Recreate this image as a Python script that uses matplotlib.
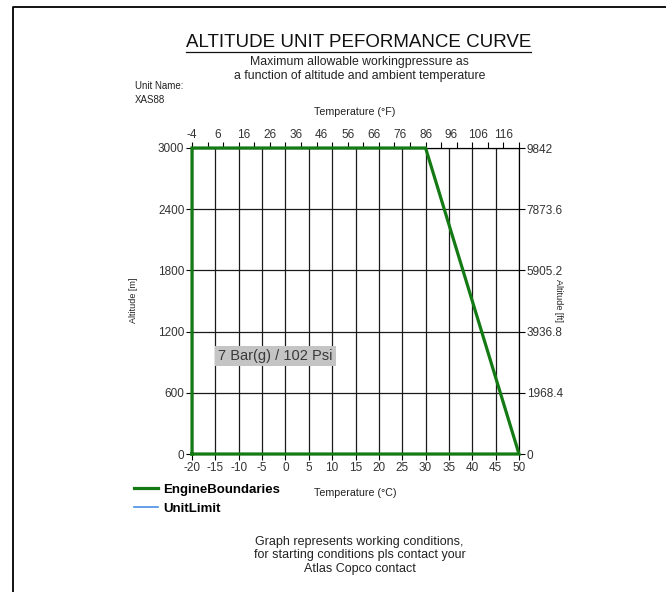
import numpy as np
import matplotlib
matplotlib.use('Agg')
import matplotlib.pyplot as plt
from matplotlib.lines import Line2D

plt.rcParams['font.family'] = ['Liberation Sans', 'DejaVu Sans']
plt.rcParams['axes.unicode_minus'] = False

# ── data ───────────────────────────────────────────────────────────────────
# engine boundary polygon: temperature (°C) vs altitude (m)
boundary_c = [-20, -20, 30, 50, -20]
boundary_m = [0, 3000, 3000, 0, 0]

x_ticks_c = list(range(-20, 51, 5))
y_ticks_m = [0, 600, 1200, 1800, 2400, 3000]
ft_ticks = [0, 1968.4, 3936.8, 5905.2, 7873.6, 9842]
ft_labels = ['0', '1968.4', '3936.8', '5905.2', '7873.6', '9842']
f_labels = list(range(-4, 117, 10))
f_marks = list(range(-4, 123, 6))

pressure_label = '7 Bar(g) / 102 Psi'
pressure_pos = (-2.1, 960)

GREEN = '#147a14'
BLUE = '#4a90e2'


def c2f(c):
    return np.asarray(c) * 1.8 + 32


def f2c(f):
    return (np.asarray(f) - 32) / 1.8


def m2ft(m):
    return np.asarray(m) * 3.2807


def ft2m(ft):
    return np.asarray(ft) / 3.2807


fig = plt.figure(figsize=(6.66, 5.92), dpi=100)
ax = fig.add_axes([0.2883, 0.2331, 0.491, 0.5169])

ax.plot(boundary_c, boundary_m, color=GREEN, lw=2.3, zorder=5,
        solid_joinstyle='miter', clip_on=False)
unit_line, = ax.plot([], [], color=BLUE, lw=1.2)

ax.set_xlim(-20, 50)
ax.set_ylim(0, 3000)
ax.set_xticks(x_ticks_c)
ax.set_yticks(y_ticks_m)
ax.grid(True, color='#1a1a1a', lw=0.9)
ax.tick_params(axis='both', direction='out', length=4, width=0.8,
               labelsize=8.5, labelcolor='#333333', pad=1.5)
for s in ax.spines.values():
    s.set_linewidth(0.8)

# top axis in °F: labels every 10 °F, tick marks every 6 °F
top = ax.secondary_xaxis('top', functions=(c2f, f2c))
top.xaxis.remove_overlapping_locs = False
top.set_xticks(f_labels, [str(v) for v in f_labels])
top.set_xticks(f_marks, minor=True)
top.tick_params(axis='x', which='major', length=0, labelsize=8.5,
                labelcolor='#333333', pad=5)
top.tick_params(axis='x', which='minor', direction='out', length=4, width=0.8)
top.spines['top'].set_linewidth(0.8)

# right axis in ft
right = ax.secondary_yaxis('right', functions=(m2ft, ft2m))
right.set_yticks(ft_ticks, ft_labels)
right.tick_params(axis='y', direction='out', length=4, width=0.8,
                  labelsize=8.5, labelcolor='#333333', pad=1.5)

ax.text(*pressure_pos, pressure_label, ha='center', va='center',
        fontsize=10.5, color='#3a3a3a', zorder=6,
        bbox=dict(boxstyle='square,pad=0.2', fc='#c4c4c4', ec='none'))

# axis titles
fig.text(0.533, 0.811, 'Temperature (°F)', ha='center', va='center',
         fontsize=7.7, color='#222222')
fig.text(0.533, 0.168, 'Temperature (°C)', ha='center', va='center',
         fontsize=7.7, color='#222222')
fig.text(0.2, 0.492, 'Altitude [m]', ha='center', va='center',
         rotation=90, fontsize=6.5, color='#222222')
fig.text(0.838, 0.492, 'Altitude [ft]', ha='center', va='center',
         rotation=-90, fontsize=6.5, color='#222222')

# header
title = fig.text(0.538, 0.928, 'ALTITUDE UNIT PEFORMANCE CURVE',
                 ha='center', va='center', fontsize=13.5, color='#111111')
fig.text(0.54, 0.895, 'Maximum allowable workingpressure as',
         ha='center', va='center', fontsize=8.8, color='#222222')
fig.text(0.54, 0.871, 'a function of altitude and ambient temperature',
         ha='center', va='center', fontsize=8.8, color='#222222')
fig.text(0.203, 0.855, 'Unit Name:', ha='left', va='center',
         fontsize=7, color='#222222')
fig.text(0.203, 0.831, 'XAS88', ha='left', va='center',
         fontsize=7, color='#222222')

# footer note
fig.text(0.54, 0.062,
         'Graph represents working conditions,\n'
         'for starting conditions pls contact your\n'
         'Atlas Copco contact',
         ha='center', va='center', fontsize=9, color='#222222',
         linespacing=1.15)

# legend
eng_handle = Line2D([], [], color=GREEN, lw=2.3)
fig.legend([eng_handle, unit_line], ['EngineBoundaries', 'UnitLimit'],
           loc='upper left', bbox_to_anchor=(0.194, 0.192), frameon=False,
           prop={'weight': 'bold', 'size': 9.5}, handlelength=1.75,
           handletextpad=0.4, labelspacing=0.5, borderaxespad=0)

# underline the title
fig.canvas.draw()
bb = title.get_window_extent().transformed(fig.transFigure.inverted())
fig.add_artist(Line2D([bb.x0, bb.x1], [bb.y0 - 0.002, bb.y0 - 0.002],
                      color='#111111', lw=0.9))

# page frame on left and top
fig.add_artist(Line2D([0.0195, 0.0195, 1.0], [0.0, 0.988, 0.988],
                      color='black', lw=1.3))

fig.savefig('out.png', dpi=100)
